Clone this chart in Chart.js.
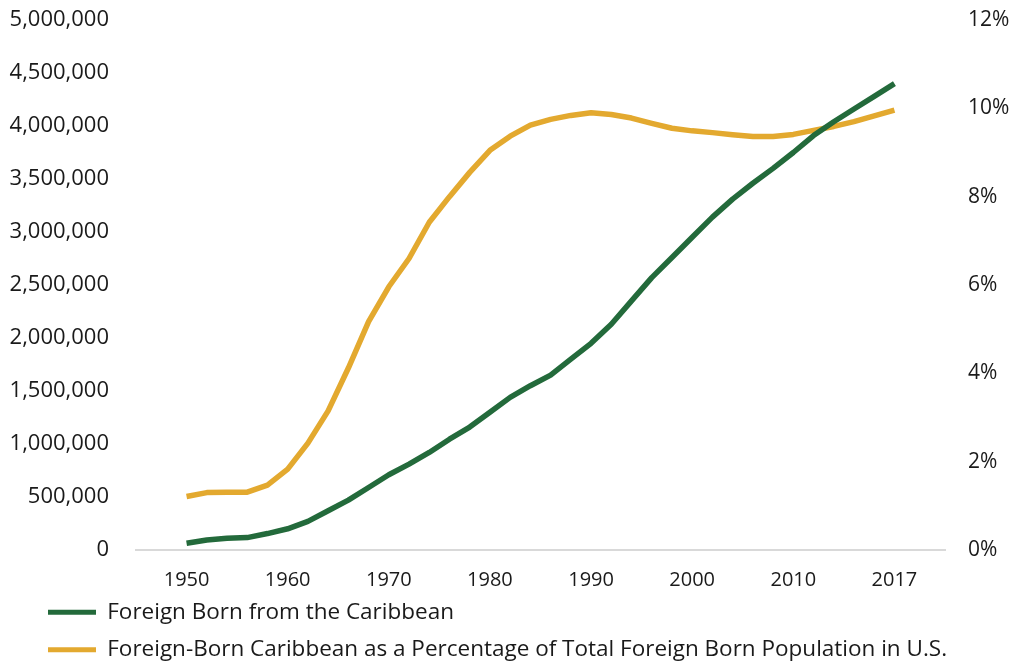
<!DOCTYPE html>
<html lang="en">
<head>
  <meta charset="UTF-8">
  <title>Foreign Born from the Caribbean</title>
  <script src="https://cdn.jsdelivr.net/npm/chart.js"></script>
  <style>
    html, body { margin: 0; padding: 0; background: #fff; }
    .wrap { width: 1016px; height: 664px; position: relative; }
  </style>
</head>
<body>
  <div class="wrap"><canvas id="chart"></canvas></div>
<script>
// x position along the axis: 1950 = 0, one unit per year, last label (2017) sits at 70
const xPos = [0, 2, 4, 6, 8, 10, 12, 14, 16, 18, 20, 22, 24, 26, 28, 30, 32, 34,
              36, 38, 40, 42, 44, 46, 48, 50, 52, 54, 56, 58, 60, 62, 64, 66, 68, 70];
const tickLabels = ['1950', '1960', '1970', '1980', '1990', '2000', '2010', '2017'];

// number of foreign born from the Caribbean
const foreignBorn = [63000, 95000, 110000, 117000, 155000, 200000, 270000, 370000, 470000, 590000,
                     710000, 810000, 920000, 1045000, 1160000, 1300000, 1440000, 1550000,
                     1650000, 1800000, 1950000, 2130000, 2350000, 2570000, 2760000, 2950000,
                     3140000, 3310000, 3460000, 3600000, 3750000, 3910000, 4040000, 4160000,
                     4280000, 4400000];

// share of total foreign born population in U.S. (%)
const pctForeign = [1.21, 1.30, 1.31, 1.31, 1.47, 1.83, 2.42, 3.15, 4.12, 5.17,
                    5.96, 6.60, 7.42, 8.00, 8.55, 9.05, 9.37, 9.62,
                    9.75, 9.84, 9.90, 9.86, 9.78, 9.66, 9.55, 9.49,
                    9.45, 9.40, 9.36, 9.36, 9.41, 9.50, 9.59, 9.70,
                    9.83, 9.96];

const GREEN = '#236a3b';
const GOLD = '#e3a92f';

Chart.defaults.font.family = '"Open Sans", sans-serif';
Chart.defaults.color = '#1a1a1a';

// legend: fixed height, then placed under the axis labels
const legendPlace = {
  id: 'legendPlace',
  beforeLayout(chart) {
    const lg = chart.legend;
    if (lg && !lg._fixed) {
      const fit = lg.fit.bind(lg);
      lg.fit = function () { fit(); this.height = 70; };
      lg._fixed = true;
    }
  },
  afterLayout(chart) {
    chart.legend.left = 33;
    chart.legend.top = 586;
  }
};

// y axes: fixed width, no extra top/bottom padding from tick padding
const sideAxis = width => scale => {
  scale.width = width;
  scale.paddingTop = 0;
  scale.paddingBottom = 0;
};

new Chart(document.getElementById('chart'), {
  type: 'line',
  data: {
    datasets: [
      {
        label: 'Foreign Born from the Caribbean',
        data: xPos.map((x, i) => ({ x, y: foreignBorn[i] })),
        borderColor: GREEN,
        backgroundColor: GREEN,
        borderWidth: 5.5,
        borderJoinStyle: 'round',
        pointRadius: 0,
        yAxisID: 'y'
      },
      {
        label: 'Foreign-Born Caribbean as a Percentage of Total Foreign Born Population in U.S.',
        data: xPos.map((x, i) => ({ x, y: pctForeign[i] })),
        borderColor: GOLD,
        backgroundColor: GOLD,
        borderWidth: 5.5,
        borderJoinStyle: 'round',
        pointRadius: 0,
        yAxisID: 'y1'
      }
    ]
  },
  options: {
    responsive: true,
    maintainAspectRatio: false,
    animation: false,
    layout: { padding: { top: 20, left: 0, right: 0, bottom: 0 } },
    plugins: {
      tooltip: { enabled: false },
      legend: {
        position: 'bottom',
        align: 'start',
        labels: {
          font: { size: 22.5 },
          boxWidth: 48,
          boxHeight: 5,
          padding: 15,
          generateLabels(chart) {
            return Chart.defaults.plugins.legend.labels.generateLabels(chart)
              .map(l => ({ ...l, lineWidth: 0 }));
          }
        }
      }
    },
    scales: {
      x: {
        type: 'linear',
        min: -5,
        max: 75,
        afterBuildTicks(scale) {
          scale.ticks = tickLabels.map((_, i) => ({ value: i * 10 }));
        },
        afterFit(scale) { scale.height = 44; },
        ticks: {
          font: { size: 20 },
          padding: 18,
          maxRotation: 0,
          autoSkip: false,
          callback: v => tickLabels[v / 10]
        },
        grid: { display: false, drawTicks: false },
        border: { display: true, color: '#d9d9d9', width: 2 }
      },
      y: {
        position: 'left',
        min: 0,
        max: 5000000,
        afterFit: sideAxis(136),
        ticks: {
          stepSize: 500000,
          font: { size: 22 },
          padding: 27,
          callback: v => v.toLocaleString('en-US')
        },
        grid: { display: false, drawTicks: false },
        border: { display: false }
      },
      y1: {
        position: 'right',
        min: 0,
        max: 12,
        afterFit: sideAxis(71),
        ticks: {
          stepSize: 2,
          font: { size: 21 },
          padding: 23,
          callback: v => v + '%'
        },
        grid: { display: false, drawTicks: false },
        border: { display: false }
      }
    }
  },
  plugins: [legendPlace]
});
</script>
</body>
</html>
